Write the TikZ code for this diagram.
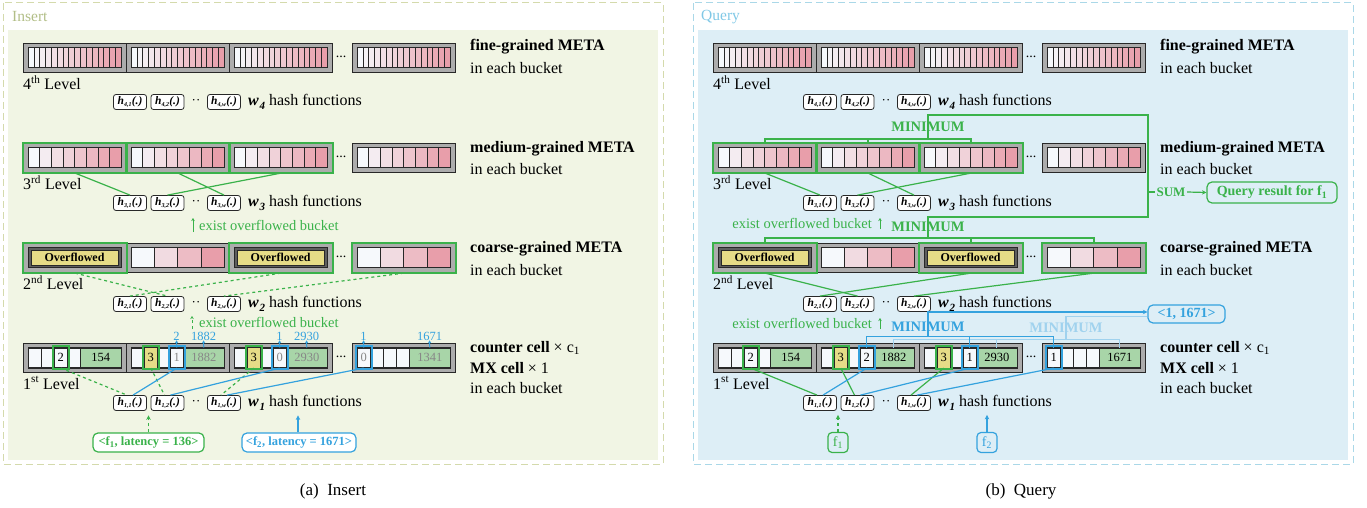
\documentclass[tikz,border=0pt]{standalone}
\usepackage{fontspec}
\setmainfont{Liberation Serif}
\usetikzlibrary{arrows.meta}
\definecolor{greenc}{RGB}{58,178,74}
\definecolor{bluec}{RGB}{52,162,222}
\definecolor{fblue}{RGB}{160,210,238}
\definecolor{bgl}{RGB}{241,245,228}
\definecolor{bgr}{RGB}{221,238,246}
\definecolor{dashl}{RGB}{212,218,172}
\definecolor{dashr}{RGB}{170,216,232}
\definecolor{insc}{RGB}{178,190,135}
\definecolor{qc}{RGB}{128,200,230}
\definecolor{bdark}{RGB}{40,40,40}
\definecolor{bgray}{RGB}{172,172,172}
\definecolor{cellw}{RGB}{246,249,252}
\definecolor{pinkc}{RGB}{232,158,170}
\definecolor{gcell}{RGB}{168,213,168}
\definecolor{ycell}{RGB}{230,220,135}
\definecolor{graytxt}{RGB}{135,135,135}
\newcommand\fs[1]{\fontsize{#1}{#1}\selectfont}
\newcommand\hfn[1]{\textbf{\textit{h}}\kern0.2pt\raisebox{-2.3pt}{\fs{6}\textbf{\textit{#1}}}\kern0.2pt\textbf{\textit{(.)}}}
\newcommand\wfn[1]{\textbf{\textit{w}}\kern0.6pt\raisebox{-3.5pt}{\fs{11}\textbf{\textit{#1}}}}
\tikzset{
  bkt/.style={draw=bdark, fill=bgray, line width=1.1pt, minimum width=103pt, minimum height=29pt, inner sep=0pt, anchor=north west},
  cellbox/.style={draw=bdark, line width=0.6pt, minimum height=20pt, inner sep=0pt, anchor=north west},
  hbox/.style={draw=bdark, rounded corners=2.5pt, fill=white, minimum width=33pt, minimum height=15pt, inner sep=0pt, line width=0.8pt, font=\fs{11.5}},
  lbl/.style={inner sep=0pt, anchor=west, font=\fs{16}},
  blbl/.style={inner sep=0pt, anchor=west, font=\bfseries\fs{16}},
  gline/.style={draw=greenc, line width=1.2pt},
  bline/.style={draw=bluec, line width=1.2pt},
  fbline/.style={draw=fblue, line width=1.2pt},
  ghl/.style={draw=greenc, line width=1.8pt},
  bhl/.style={draw=bluec, line width=1.8pt},
  num/.style={inner sep=0pt, font=\fs{12.5}},
  exist/.style={inner sep=0pt, text=greenc, font=\fs{14.5}},
  tip/.style={-{Stealth[length=4.5pt,width=4.5pt]}},
  smalltip/.style={-{Stealth[length=3pt,width=3.5pt]}},
  mini/.style={inner sep=0pt, font=\bfseries\fs{14.5}},
  rbox/.style={rounded corners=5pt, line width=1.2pt, inner sep=0pt},
}
\newcommand\bkt[4]{%
  \node[bkt] (#1) at (#2,#3) {};
  \foreach \i in {1,...,#4}{%
    \pgfmathsetmacro\pp{int(round(100*(\i-1)/(#4-1)))}%
    \pgfmathsetmacro\cx{#2+5+(\i-1)*93/#4}%
    \draw[bdark, line width=0.5pt, fill=pinkc!\pp!cellw] (\cx,#3+4.5) rectangle ++(93/#4,20);
  }
  \draw[bdark,line width=1pt] (#2+5,#3+4.5) rectangle ++(93,20);
}
\newcommand\ovb[3]{%
  \node[bkt] (#1) at (#2,#3) {};
  \draw[bdark, line width=1pt, fill=bdark!75] (#2+5,#3+4.5) rectangle ++(93,20);
  \node[draw=bdark, line width=0.8pt, fill=ycell, minimum width=87pt, minimum height=15pt, inner sep=0pt, font=\bfseries\fs{12}] (#1-y) at (#2+51.5,#3+14.5) {Overflowed};
}
\newcommand\lbk[3]{%
  \node[bkt] (#1) at (#2,#3) {};
  \foreach \i in {1,...,4}{%
    \node[cellbox, minimum width=13pt, fill=cellw] (#1-\i) at ({#2+5+(\i-1)*13},#3+4.5) {};
  }
  \node[cellbox, minimum width=41pt, fill=gcell] (#1-5) at (#2+57,#3+4.5) {};
  \draw[bdark,line width=1pt] (#2+5,#3+4.5) rectangle ++(93,20);
}
\newcommand\hl[2]{\draw[#2] ([shift={(-1.2,-1.2)}]#1.north west) rectangle ([shift={(1.2,1.2)}]#1.south east);}
\newcommand\ycl[1]{\draw[bdark, line width=0.6pt, fill=ycell] (#1.north west) rectangle (#1.south east);}
\newcommand\panel[2]{%
  % level 4
  \bkt{#1-4a}{23}{43}{16}\bkt{#1-4b}{126}{43}{16}\bkt{#1-4c}{229}{43}{16}\bkt{#1-4d}{352}{43}{16}
  % level 3
  \bkt{#1-3a}{23}{143}{8}\bkt{#1-3b}{126}{143}{8}\bkt{#1-3c}{229}{143}{8}\bkt{#1-3d}{352}{143}{8}
  % level 2
  \ovb{#1-2a}{23}{243}\bkt{#1-2b}{126}{243}{4}\ovb{#1-2c}{229}{243}\bkt{#1-2d}{352}{243}{4}
  % level 1
  \lbk{#1-1a}{23}{343}\lbk{#1-1b}{126}{343}\lbk{#1-1c}{229}{343}\lbk{#1-1d}{352}{343}
  \foreach \b in {3a,3b,3c,2a,2c,2d}{\draw[ghl] (#1-\b.north west) rectangle (#1-\b.south east);}
  \foreach \lv/\yy in {4/57,3/157,2/257,1/357}{\node[inner sep=0pt,font=\fs{14}] (#1-dd\lv) at (341,\yy) {...};}
  % level-1 marks
  \ycl{#1-1b-2}\ycl{#1-1c-2}
  \hl{#1-1a-3}{ghl}\hl{#1-1b-2}{ghl}\hl{#1-1c-2}{ghl}
  \hl{#1-1b-4}{bhl}\hl{#1-1c-4}{bhl}\hl{#1-1d-1}{bhl}
  \node[num] (#1-t1) at (#1-1a-3) {2};
  \node[num] (#1-t2) at (#1-1a-5) {154};
  \node[num] (#1-t3) at (#1-1b-2) {3};
  \node[num] (#1-t4) at (#1-1c-2) {3};
  % hash rows
  \foreach \lv/\yy in {4/102,3/203,2/304,1/403}{%
    \node[hbox] (#1-h\lv-1) at (130,\yy) {\hfn{\lv,1}};
    \node[hbox] (#1-h\lv-2) at (167.5,\yy) {\hfn{\lv,2}};
    \node[inner sep=0pt,font=\fs{13}] (#1-hd\lv) at (196,\yy) {··};
    \node[hbox] (#1-h\lv-w) at (224,\yy) {\hfn{\lv,w}};
    \node[lbl] (#1-hl\lv) at (248,\yy) {\wfn{\lv} hash functions};
  }
  \foreach \lv/\sx/\yy in {4/th/83,3/rd/183,2/nd/283,1/st/383}{%
    \node[lbl] (#1-lv\lv) at (23,\yy) {\lv\textsuperscript{\sx} Level};
  }
  \node[blbl] (#1-d4) at (470,47) {fine-grained META};
  \node[lbl] (#1-e4) at (470,68) {in each bucket};
  \node[blbl] (#1-d3) at (470,149) {medium-grained META};
  \node[lbl] (#1-e3) at (470,169) {in each bucket};
  \node[blbl] (#1-d2) at (470,249) {coarse-grained META};
  \node[lbl] (#1-e2) at (470,270) {in each bucket};
  \node[lbl] (#1-d1) at (470,348) {\textbf{counter cell} × c\textsubscript{1}};
  \node[lbl] (#1-m1) at (470,368) {\textbf{MX cell} × 1};
  \node[lbl] (#1-e1) at (470,388) {in each bucket};
  % links
  \draw[gline] (#1-3a.south) -- (#1-h3-1.north);
  \draw[gline] (#1-3b.south) -- (#1-h3-w.north);
  \draw[gline] (#1-3c.south) -- (#1-h3-2.north);
  \draw[gline,#2] (#1-2a.south) -- (#1-h2-2.north);
  \draw[gline,#2] (#1-2c.south) -- (#1-h2-1.north);
  \draw[gline,#2] (#1-2d.south) -- (#1-h2-w.north);
  \draw[gline,#2] (#1-1a-3.south) -- ([xshift=-3pt]#1-h1-1.north);
  \draw[gline,#2] (#1-1b-2.south) -- ([xshift=-3pt]#1-h1-2.north);
  \draw[gline,#2] (#1-1c-2.south) -- ([xshift=-3pt]#1-h1-w.north);
  \draw[bline] (#1-1b-4.south) -- ([xshift=3pt]#1-h1-1.north);
  \draw[bline] (#1-1c-4.south) -- ([xshift=3pt]#1-h1-2.north);
  \draw[bline] (#1-1d-1.south) -- ([xshift=3pt]#1-h1-w.north);
}
\begin{document}
\begin{tikzpicture}[x=1pt,y=-1pt]
\useasboundingbox (0,0) rectangle (1367,508);
% backgrounds
\fill[bgl] (8,30) rectangle (658,460);
\draw[dashl, line width=1pt, dash pattern=on 7pt off 4pt] (3,3) rectangle (663,464);
\fill[bgr] (698,30) rectangle (1348,460);
\draw[dashr, line width=1pt, dash pattern=on 7pt off 4pt] (693,3) rectangle (1353,464);
\node[inner sep=0pt, anchor=west, text=insc, font=\fs{15.5}] (L-title) at (12,17) {Insert};
\node[inner sep=0pt, anchor=west, text=qc, font=\fs{15.5}] (R-title) at (701,17) {Query};
\node[font=\fs{17}] (capA) at (333,491) {(a)\enspace Insert};
\node[font=\fs{17}] (capB) at (1021,491) {(b)\enspace Query};

% ---------------- left panel: Insert
\panel{L}{dashed}
\node[num, text=graytxt] (L-t5) at (L-1b-4) {1};
\node[num, text=graytxt] (L-t6) at (L-1b-5) {1882};
\node[num, text=graytxt] (L-t7) at (L-1c-4) {0};
\node[num, text=graytxt] (L-t8) at (L-1c-5) {2930};
\node[num, text=graytxt] (L-t9) at (L-1d-1) {0};
\node[num, text=graytxt] (L-t10) at (L-1d-5) {1341};
\node[num, text=bluec] (L-a1) at (176.5,336) {2};
\node[num, text=bluec] (L-a2) at (203.5,336) {1882};
\node[num, text=bluec] (L-a3) at (279.5,336) {1};
\node[num, text=bluec] (L-a4) at (306.5,336) {2930};
\node[num, text=bluec] (L-a5) at (363.5,336) {1};
\node[num, text=bluec] (L-a6) at (429.5,336) {1671};
\draw[bluec, line width=1pt, smalltip] (L-1b-4.north) -- (L-a1.south);
\draw[bluec, line width=1pt, smalltip] (L-1b-5.north) -- (L-a2.south);
\draw[bluec, line width=1pt, smalltip] (L-1c-4.north) -- (L-a3.south);
\draw[bluec, line width=1pt, smalltip] (L-1c-5.north) -- (L-a4.south);
\draw[bluec, line width=1pt, smalltip] (L-1d-1.north) -- (L-a5.south);
\draw[bluec, line width=1pt, smalltip] (L-1d-5.north) -- (L-a6.south);
\node[exist, anchor=west] (L-ex3) at (199,225) {exist overflowed bucket};
\coordinate (L-ea3) at (193,232);
\draw[greenc, line width=1pt, smalltip] (L-ea3) -- ++(0,-14);
\node[exist, anchor=west] (L-ex1) at (199,322) {exist overflowed bucket};
\coordinate (L-ea1) at (192,329);
\draw[greenc, line width=1pt, dashed, smalltip] (L-ea1) -- ++(0,-13);
\node[draw=greenc, rbox, fill=white, text=greenc, font=\bfseries\fs{12.5}, minimum width=111pt, minimum height=19pt] (L-f1) at (148.5,442.5) {<f\textsubscript{1}, latency = 136>};
\node[draw=bluec, rbox, fill=white, text=bluec, font=\bfseries\fs{12.5}, minimum width=114pt, minimum height=19pt] (L-f2) at (299,442.5) {<f\textsubscript{2}, latency = 1671>};
\draw[greenc, line width=1.1pt, dashed, tip] (L-f1.north) -- ++(0,-17);
\draw[bluec, line width=1.1pt, tip] ([xshift=-1pt]L-f2.north) -- ++(0,-17);

% ---------------- right panel: Query
\begin{scope}[xshift=690pt]
\panel{R}{}
\end{scope}
\node[num] (R-t5) at (R-1b-4) {2};
\node[num] (R-t6) at (R-1b-5) {1882};
\node[num] (R-t7) at (R-1c-4) {1};
\node[num] (R-t8) at (R-1c-5) {2930};
\node[num] (R-t9) at (R-1d-1) {1};
\node[num] (R-t10) at (R-1d-5) {1671};
\node[exist, anchor=east] (R-ex3) at (872,223) {exist overflowed bucket};
\coordinate (R-ea3) at (880,229);
\draw[greenc, line width=0.8pt, smalltip] (R-ea3) -- ++(0,-11);
\node[exist, anchor=east] (R-ex1) at (872,323) {exist overflowed bucket};
\coordinate (R-ea1) at (880,329);
\draw[greenc, line width=0.8pt, smalltip] (R-ea1) -- ++(0,-11);
% green MINIMUM / SUM
\draw[gline] (R-3a.north) -- ++(0,-4) -| (R-3c.north);
\draw[gline] (R-3b.north) -- ++(0,-4);
\draw[gline] (R-2a.north) -- ++(0,-5) -| (R-2d.north);
\draw[gline] (R-2c.north) -- ++(0,-5);
\coordinate (R-k1) at (928,139);
\coordinate (R-k2) at (928,115);
\coordinate (R-k3) at (1148,115);
\coordinate (R-k4) at (1148,217);
\coordinate (R-k5) at (928,217);
\coordinate (R-k6) at (928,238);
\draw[gline] (R-k1) -- (R-k2) -- (R-k3) -- (R-k4) -- (R-k5) -- (R-k6);
\node[mini, text=greenc] (R-min3) at (928,127) {MINIMUM};
\node[mini, text=greenc] (R-min2) at (928,227) {MINIMUM};
\coordinate (R-ks) at (1148,192);
\node[inner sep=0pt, text=greenc, font=\bfseries\fs{13}] (R-sum) at (1171,192) {SUM};
\node[draw=greenc, rbox, text=greenc, font=\bfseries\fs{14}, minimum width=130pt, minimum height=21pt] (R-res) at (1272,192.5) {Query result for f\textsubscript{1}};
\draw[gline] (R-ks) -- ([xshift=-1.5pt]R-sum.west);
\draw[gline, tip] ([xshift=1.5pt]R-sum.east) -- (R-res.west);
% blue MINIMUM
\draw[fbline] (R-1b-5.north) -- ++(0,-8) -| (R-1d-5.north);
\draw[fbline] (R-1c-5.north) -- ++(0,-8);
\draw[bline] (R-1b-4.north) -- ++(0,-11) -| (R-1d-1.north);
\draw[bline] (R-1c-4.north) -- ++(0,-11);
\node[draw=bluec, rbox, text=bluec, font=\bfseries\fs{14}, minimum width=77pt, minimum height=18pt] (R-one) at (1186.5,314) {<1, 1671>};
\coordinate (R-kf1) at (1066,339.5);
\coordinate (R-kf2) at (1066,316.5);
\draw[fbline] (R-kf1) -- (R-kf2) -- (R-kf2 -| R-one.west);
\coordinate (R-kb1) at (928,336.5);
\coordinate (R-kb2) at (928,312);
\draw[bline, tip] (R-kb1) -- (R-kb2) -- (R-kb2 -| R-one.west);
\node[mini, text=bluec] (R-minb) at (928,327) {MINIMUM};
\node[mini, text=fblue] (R-minf) at (1066,328) {MINIMUM};
\node[draw=greenc, rbox, rounded corners=4pt, text=greenc, font=\fs{14}, minimum width=20pt, minimum height=20pt] (R-f1) at (838,442.5) {f\textsubscript{1}};
\node[draw=bluec, rbox, rounded corners=4pt, text=bluec, font=\fs{14}, minimum width=20pt, minimum height=20pt] (R-f2) at (987,442.5) {f\textsubscript{2}};
\draw[greenc, line width=1.1pt, dashed, tip] (R-f1.north) -- ++(0,-17);
\draw[bluec, line width=1.1pt, tip] (R-f2.north) -- ++(0,-17);
\end{tikzpicture}
\end{document}
